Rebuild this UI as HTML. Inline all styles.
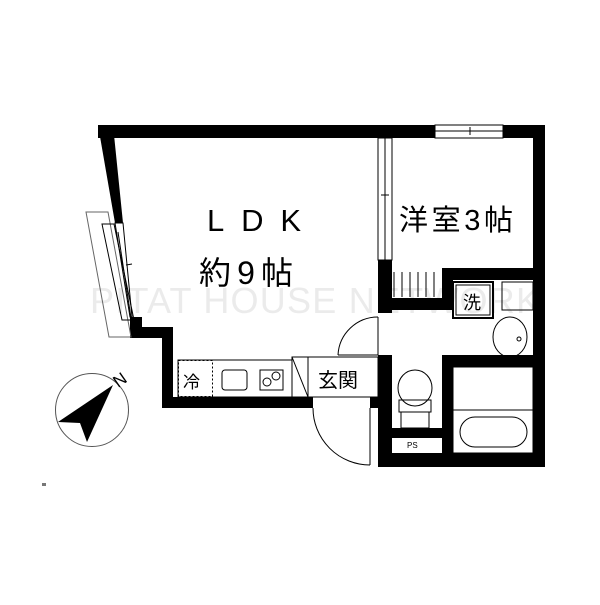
<!DOCTYPE html>
<html><head><meta charset="utf-8"><style>
body{margin:0;background:#fff;width:600px;height:600px;overflow:hidden}
</style></head><body>
<svg width="600" height="600" viewBox="0 0 600 600" xmlns="http://www.w3.org/2000/svg" font-family="Liberation Sans, Noto Sans CJK JP, sans-serif">
<rect width="600" height="600" fill="#fff"/>
<text x="90" y="313" font-size="36" fill="#ebebeb" textLength="450">PITAT HOUSE NETWORK</text>
<g fill="#000">
<rect x="98" y="125" width="447" height="13"/>
<polygon points="98,125 113,125 123,223 115,223"/>
<rect x="130" y="317" width="12" height="21"/>
<rect x="130" y="327" width="43" height="11"/>
<rect x="162" y="327" width="11" height="81"/>
<rect x="162" y="397" width="151" height="11"/>
<rect x="370" y="397" width="10" height="11"/>
<rect x="378" y="260" width="14" height="53"/>
<rect x="378" y="355" width="14" height="112"/>
<rect x="533" y="125" width="12" height="342"/>
<rect x="378" y="453" width="167" height="14"/>
<rect x="442" y="268" width="103" height="12"/>
<rect x="442" y="268" width="11" height="42"/>
<rect x="378" y="298" width="75" height="12"/>
<rect x="442" y="355" width="103" height="12"/>
<rect x="442" y="355" width="11" height="112"/>
<rect x="392" y="428" width="50" height="10"/>
</g>
<g fill="none" stroke="#000" stroke-width="1">
<rect x="435" y="125" width="68" height="13" fill="#fff"/>
<line x1="435" y1="131" x2="503" y2="131"/>
<line x1="470" y1="127" x2="470" y2="135"/>
<rect x="378" y="138" width="14" height="122" fill="#fff"/>
<line x1="385" y1="138" x2="385" y2="260"/>
<line x1="381" y1="195" x2="389" y2="195"/>
<polygon points="115,223 123,223 132,317 130,317" fill="#fff"/>
<polygon points="86,212 108,212 131,337 109,337" stroke="#666"/>
<polygon points="102,224 114,224 134,320 122,320"/>
<line x1="118" y1="232" x2="131" y2="318"/>
<line x1="126" y1="265" x2="132" y2="264"/>
<line x1="394" y1="272" x2="394" y2="297"/>
<line x1="402" y1="272" x2="402" y2="297"/>
<line x1="410" y1="272" x2="410" y2="297"/>
<line x1="418" y1="272" x2="418" y2="297"/>
<line x1="426" y1="272" x2="426" y2="297"/>
<line x1="434" y1="272" x2="434" y2="297"/>
<line x1="378" y1="317" x2="378" y2="355"/>
<path d="M378,317 A40,40 0 0 0 338,355"/>
<line x1="338" y1="355" x2="378" y2="355"/>
<line x1="370" y1="408" x2="370" y2="465"/>
<path d="M313,408 A57,57 0 0 0 370,465"/>
<rect x="178" y="360" width="114" height="37"/>
<rect x="178.5" y="360.5" width="34" height="36" stroke-dasharray="2,2"/>
<rect x="222" y="370" width="25" height="20" rx="3"/>
<rect x="260" y="370" width="23" height="20"/>
<circle cx="267" cy="382" r="4"/>
<circle cx="276" cy="376" r="4"/>
<rect x="292" y="357" width="16" height="40"/>
<line x1="292" y1="357" x2="308" y2="397"/>
<rect x="308" y="357" width="70" height="40"/>
<rect x="453" y="282" width="40" height="36" stroke-width="2"/>
<rect x="456" y="285" width="34" height="30"/>
<rect x="502" y="282" width="31" height="28"/>
<ellipse cx="510" cy="337" rx="17" ry="20"/>
<circle cx="519" cy="339" r="2"/>
<ellipse cx="415" cy="388" rx="17" ry="18"/>
<rect x="399" y="400" width="32" height="12"/>
<rect x="401" y="412" width="28" height="16"/>
<rect x="453" y="367" width="80" height="86"/>
<line x1="453" y1="410" x2="533" y2="410"/>
<rect x="460" y="417" width="67" height="30" rx="15"/>
<circle cx="92" cy="410" r="36.5" stroke="#555"/>
</g>
<polygon points="113,385 58,422 80,423 87,442" fill="#000"/>
<text x="113" y="384" font-size="17" transform="rotate(-35 122 378)" fill="#000">N</text>
<rect x="42" y="483" width="4" height="3" fill="#777"/>
<g fill="#000">
<text x="207" y="231" font-size="31" textLength="94">LDK</text>
<text x="199" y="284" font-size="32" textLength="94">約9帖</text>
<text x="399" y="230" font-size="29" textLength="114">洋室3帖</text>
<text x="463" y="309" font-size="18">洗</text>
<text x="183" y="388" font-size="17">冷</text>
<text x="318" y="387" font-size="20">玄関</text>
<text x="407" y="448" font-size="8">PS</text>
</g>
</svg>
</body></html>
